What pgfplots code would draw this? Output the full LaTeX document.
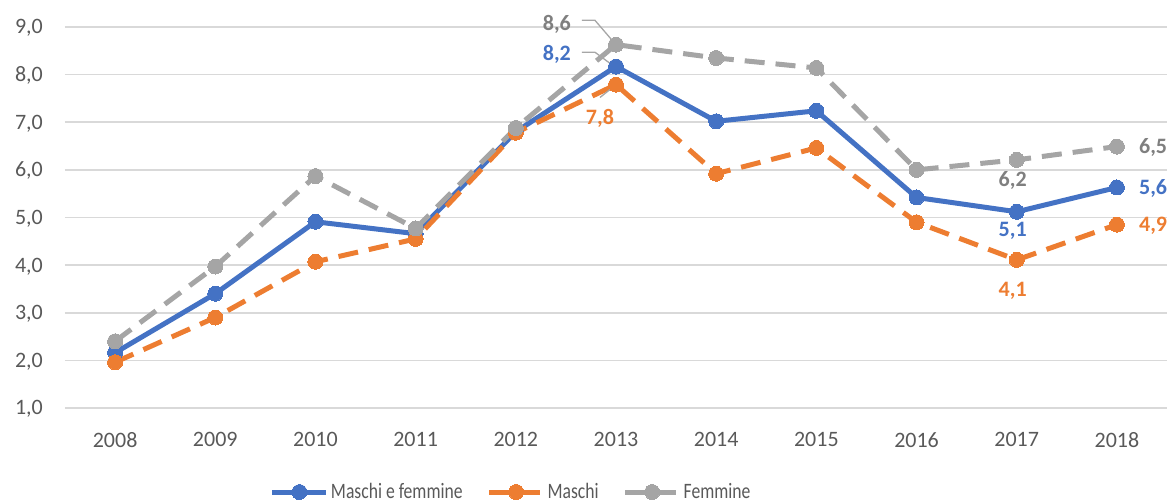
\documentclass[border=0pt]{standalone}
\usepackage{fontspec}
\setmainfont{Carlito}
\newfontfamily\legfont[FakeStretch=0.8]{Carlito}
\usepackage{pgfplots}
\pgfplotsset{compat=1.18}
\usetikzlibrary{calc}
\definecolor{cblue}{HTML}{4472C4}
\definecolor{corange}{HTML}{ED7D31}
\definecolor{cgray}{HTML}{A5A5A5}
\definecolor{lgray}{HTML}{7F7F7F}
\definecolor{tgray}{HTML}{595959}
\definecolor{gridc}{HTML}{D9D9D9}
\definecolor{leader}{HTML}{A6A6A6}
\begin{document}
\begin{tikzpicture}[font=\fontsize{22}{26}\selectfont,
  lab/.style={font=\fontsize{22}{26}\selectfont\bfseries, anchor=base, inner sep=0pt}]
\begin{axis}[
  scale only axis, width=1102pt, height=381pt,
  xmin=-0.5, xmax=10.5, ymin=1, ymax=9,
  xtick={0,1,2,3,4,5,6,7,8,9,10},
  xticklabels={2008,2009,2010,2011,2012,2013,2014,2015,2016,2017,2018},
  ytick={1,2,3,4,5,6,7,8,9},
  major tick length=0pt,
  axis line style={draw=none},
  ymajorgrids, grid style={gridc, line width=1.6pt},
  /pgf/number format/assume math mode=true,
  yticklabel style={/pgf/number format/.cd, fixed, fixed zerofill, precision=1, use comma, /tikz/.cd,
     anchor=base east, inner sep=0pt, xshift=-22pt, yshift=-7pt, text=tgray},
  xticklabel style={anchor=north, inner sep=0pt, yshift=-24pt, text=tgray},
  clip=false,
  legend columns=3,
  legend style={draw=none, fill=none, inner sep=0pt, outer sep=0pt,
     at={(axis description cs:0.186,-0.2205)}, anchor=west,
     /tikz/every even column/.append style={column sep=22pt},
     nodes={inner sep=2pt, text=tgray, font=\fontsize{22}{26}\legfont}},
  legend image code/.code={\draw[#1, mark repeat=2, mark phase=2] plot coordinates {(0pt,0pt) (27pt,0pt) (54pt,0pt)};},
]
\addplot[cblue, line width=5pt, mark=*, mark size=7.5pt, mark options={solid, fill=cblue, draw=cblue, line width=0pt}]
 coordinates {(0,2.16) (1,3.40) (2,4.91) (3,4.66) (4,6.80) (5,8.17) (6,7.02) (7,7.24) (8,5.42) (9,5.12) (10,5.63)};
\addlegendentry{Maschi e femmine}
\addplot[corange, line width=5pt, dash pattern=on 20pt off 11pt, mark=*, mark size=7.5pt, mark options={solid, fill=corange, draw=corange, line width=0pt}]
 coordinates {(0,1.96) (1,2.90) (2,4.07) (3,4.55) (4,6.78) (5,7.79) (6,5.92) (7,6.46) (8,4.90) (9,4.11) (10,4.85)};
\addlegendentry{Maschi}
\addplot[cgray, line width=5pt, dash pattern=on 20pt off 11pt, mark=*, mark size=7.5pt, mark options={solid, fill=cgray, draw=cgray, line width=0pt}]
 coordinates {(0,2.40) (1,3.97) (2,5.87) (3,4.77) (4,6.88) (5,8.63) (6,8.35) (7,8.14) (8,6.00) (9,6.21) (10,6.49)};
\addlegendentry{Femmine}
% leader lines
\draw[leader, line width=1.3pt] (axis cs:4.66,9.14) -- (axis cs:4.79,9.14) -- (axis cs:4.97,8.70);
\draw[leader, line width=1.3pt] (axis cs:4.66,8.47) -- (axis cs:4.79,8.47) -- (axis cs:4.97,8.19);
\draw[leader, line width=1.3pt] (axis cs:4.84,7.52) -- (axis cs:4.99,7.77);
% data labels
\node[lab, text=lgray] at (axis cs:4.41,9.07) [yshift=-7pt] {8,6};
\node[lab, text=cblue] at (axis cs:4.41,8.44) [yshift=-7pt] {8,2};
\node[lab, text=corange] at (axis cs:4.84,7.10) [yshift=-7pt] {7,8};
\node[lab, text=lgray] at (axis cs:8.96,6.21) [yshift=-27pt] {6,2};
\node[lab, text=cblue] at (axis cs:8.96,5.12) [yshift=-25pt] {5,1};
\node[lab, text=corange] at (axis cs:8.96,4.11) [yshift=-37pt] {4,1};
\node[lab, text=lgray, anchor=base west] at (axis cs:10,6.49) [xshift=22pt, yshift=-7pt] {6,5};
\node[lab, text=cblue, anchor=base west] at (axis cs:10,5.63) [xshift=22pt, yshift=-7pt] {5,6};
\node[lab, text=corange, anchor=base west] at (axis cs:10,4.85) [xshift=22pt, yshift=-7pt] {4,9};
\coordinate (bl) at (rel axis cs:0,0);
\coordinate (tr) at (rel axis cs:1,1);
\end{axis}
\pgfresetboundingbox
\path ($(bl)+(-65pt,-95pt)$) rectangle ($(tr)+(6pt,27pt)$);
\end{tikzpicture}
\end{document}
